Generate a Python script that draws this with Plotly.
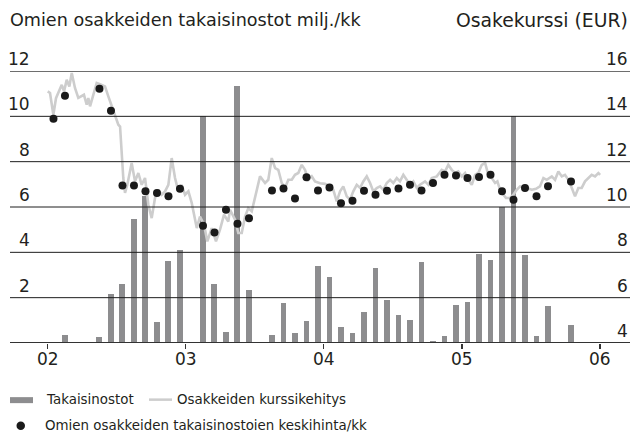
import plotly.graph_objects as go

# ---------------- data ----------------
# month index 0 = January 2002 ... 47 = December 2005
months = list(range(48))
buybacks = [0, 0.35, 0, 0, 0.25, 2.17, 2.6, 5.48, 6.47, 0.91, 3.6, 4.12,
            0, 10.0, 2.6, 0.5, 11.35, 2.32, 0, 0.34, 1.78, 0.45, 0.98, 3.41,
            2.92, 0.69, 0.45, 1.38, 3.32, 1.91, 1.25, 1.03, 3.58, 0.1, 0.29, 1.69,
            1.81, 3.94, 3.65, 6.0, 10.0, 3.9, 0.32, 1.62, 0, 0.78, 0, 0]
avg_price = [13.89, 14.91, None, None, 15.22, 14.25, 10.95, 10.95, 10.69, 10.62, 10.47, 10.8,
             None, 9.17, 8.88, 9.88, 9.26, 9.5, None, 10.73, 10.82, 10.38, 11.31, 10.73,
             10.86, 10.17, 10.28, 10.72, 10.54, 10.72, 10.82, 10.98, 10.73, 11.06, 11.42, 11.39,
             11.28, 11.32, 11.42, 10.69, 10.32, 10.84, 10.47, 10.91, None, 11.13, None, None]

# share price: time in months since start of 2002, price in EUR
price_t = [0.0, 0.2, 0.49, 0.72, 1.22, 1.42, 1.65, 1.88, 2.09, 2.37, 2.66, 2.96, 3.15, 3.39, 3.53, 3.68,
           4.26, 4.55, 4.98, 5.27, 5.57, 5.85, 6.14, 6.29, 6.43, 6.57, 6.72, 6.92, 7.30, 7.59, 7.88,
           8.17, 8.46, 8.75, 9.04, 9.33, 9.62, 9.91, 10.2, 10.49, 10.78, 11.07, 11.36, 11.65, 11.94,
           12.23, 12.52, 12.81, 12.96, 13.24, 13.59, 13.88, 14.26, 14.63, 14.98, 15.33, 15.70, 15.85,
           16.29, 16.57, 16.87, 17.16, 17.44, 17.74, 18.03, 18.46, 18.9, 19.18, 19.48, 19.77, 20.05,
           20.35, 20.63, 20.92, 21.22, 21.5, 21.79, 22.09, 22.37, 22.66, 22.96, 23.24, 23.68, 24.11,
           24.55, 24.83, 25.13, 25.42, 25.7, 26.0, 26.29, 26.57, 26.87, 27.16, 27.44, 27.74, 28.03,
           28.31, 28.61, 28.9, 29.18, 29.48, 29.77, 30.05, 30.35, 30.63, 30.92, 31.22, 31.5, 31.79,
           32.09, 32.37, 32.81, 33.1, 33.39, 33.83, 34.26, 34.55, 34.83, 35.13, 35.42, 35.7, 36.0,
           36.29, 36.57, 36.87, 37.16, 37.44, 37.74, 38.03, 38.31, 38.61, 38.9, 39.1, 39.33, 39.62,
           39.85, 40.2, 40.49, 40.78, 41.07, 41.65, 42.09, 42.46, 42.8, 43.1, 43.39, 43.83, 44.11,
           44.4, 44.7, 44.98, 45.27, 45.57, 45.85, 46.14, 46.43, 46.72, 47.01, 47.3, 47.59, 47.88, 48.03]
price_v = [15.1, 15.03, 14.07, 14.8, 15.39, 15.1, 15.61, 15.32, 15.91, 15.25, 14.81, 14.88, 14.95, 14.51, 14.81, 14.44,
           15.47, 15.42, 15.32, 14.88, 14.44, 14.07, 13.63, 13.55, 12.45, 11.28, 10.62, 10.98, 11.94, 11.13, 11.5,
           10.98, 11.28, 10.1, 9.51, 10.4, 10.76, 10.54, 10.69, 10.98, 12.16, 11.28, 10.69, 10.98, 10.54,
           10.69, 10.18, 9.36, 9.07, 9.58, 9.22, 8.48, 9.07, 8.48, 9.0, 9.66, 9.36, 9.88,
           9.44, 8.85, 8.85, 9.58, 9.95, 9.81, 10.4, 11.35, 11.06, 11.2, 12.16, 11.72, 11.64,
           11.06, 10.84, 11.2, 11.2, 11.42, 11.5, 11.86, 11.64, 11.2, 11.35, 11.13, 11.05, 11.02,
           10.9, 10.76, 10.25, 10.69, 10.91, 10.47, 10.32, 10.69, 10.98, 10.84, 11.13, 11.35, 11.06,
           10.69, 10.84, 10.91, 10.76, 11.06, 11.2, 11.06, 11.28, 11.13, 11.42, 11.2, 10.98, 11.13,
           10.84, 10.98, 11.13, 10.98, 11.28, 11.35, 11.64, 11.57, 11.86, 11.64, 11.5, 11.57, 11.35,
           11.5, 11.2, 10.98, 11.42, 11.5, 11.86, 11.94, 11.42, 11.28, 11.06, 11.13, 10.76, 10.54,
           10.4, 10.4, 10.54, 10.76, 10.91, 10.84, 10.76, 10.8, 10.91, 11.28, 11.2, 11.35, 11.2,
           11.57, 11.35, 11.42, 11.2, 10.84, 10.47, 10.84, 10.84, 11.13, 11.28, 11.42, 11.35, 11.5, 11.42]

year_ticks = [0, 12, 24, 36, 48]
year_labels = ["02", "03", "04", "05", "06"]
left_ticks = [2, 4, 6, 8, 10, 12]
right_ticks = [4, 6, 8, 10, 12, 14, 16]

title_left = "Omien osakkeiden takaisinostot milj./kk"
title_right = "Osakekurssi (EUR)"
legend_bar = "Takaisinostot"
legend_line = "Osakkeiden kurssikehitys"
legend_dot = "Omien osakkeiden takaisinostoien keskihinta/kk"

# ---------------- styling ----------------
FONT = "DejaVu Sans"
TXT = "#231f20"
BAR = "#8d8d8f"
LINE = "#cdcdcd"
DOT = "#1a1a1a"

W, H = 631, 432
ML, MR, MT, MB = 10, 1, 71, 88.7
PW, PH = W - ML - MR, H - MT - MB


def px(xp):
    return (xp - ML) / PW


def py(yp):
    return (H - MB - yp) / PH


fig = go.Figure()

fig.add_trace(go.Scatter(x=price_t, y=price_v, mode="lines", yaxis="y2",
                         line=dict(color=LINE, width=2.6), hoverinfo="skip"))
fig.add_trace(go.Bar(x=[m + 0.5 for m in months], y=buybacks, width=0.52,
                     marker=dict(color=BAR, line=dict(width=0)), yaxis="y"))
fig.add_trace(go.Scatter(x=[m + 0.5 for m in months], y=avg_price, mode="markers", yaxis="y2",
                         marker=dict(color=DOT, size=8), hoverinfo="skip"))

shapes = []
for v in left_ticks:
    top = v == 12
    shapes.append(dict(type="line", xref="paper", yref="y", x0=0, x1=1, y0=v, y1=v,
                       line=dict(color="#6e6e6e" if top else "#1e1e1e", width=2 if top else 1),
                       layer="above"))
shapes.append(dict(type="line", xref="paper", yref="y", x0=0, x1=1, y0=0, y1=0,
                   line=dict(color="#333333", width=2), layer="above"))

TF = dict(family=FONT, size=17, color=TXT)
annotations = []
for v in left_ticks:
    annotations.append(dict(text=str(v), xref="paper", yref="y", x=px(32), y=v,
                            xanchor="right", yanchor="bottom", yshift=0, showarrow=False, font=TF))
for v in right_ticks:
    annotations.append(dict(text=str(v), xref="paper", yref="y2", x=1, y=v,
                            xanchor="right", yanchor="bottom", yshift=0, showarrow=False, font=TF))

annotations.append(dict(text=title_left, xref="paper", yref="paper", x=px(8), y=py(20),
                        xanchor="left", yanchor="middle", showarrow=False,
                        font=dict(family=FONT, size=17.6, color=TXT)))
annotations.append(dict(text=title_right, xref="paper", yref="paper", x=1, y=py(20),
                        xanchor="right", yanchor="middle", showarrow=False,
                        font=dict(family=FONT, size=18.8, color=TXT)))

# legend
LF = dict(family=FONT, size=13.4, color=TXT)
shapes.append(dict(type="rect", xref="paper", yref="paper", x0=px(10), x1=px(33),
                   y0=py(403.5), y1=py(397.5), fillcolor=BAR, line=dict(width=0)))
annotations.append(dict(text=legend_bar, xref="paper", yref="paper", x=px(44), y=py(400),
                        xanchor="left", yanchor="middle", showarrow=False, font=LF))
shapes.append(dict(type="line", xref="paper", yref="paper", x0=px(149), x1=px(172),
                   y0=py(400), y1=py(400), line=dict(color=LINE, width=2.5)))
annotations.append(dict(text=legend_line, xref="paper", yref="paper", x=px(175), y=py(400),
                        xanchor="left", yanchor="middle", showarrow=False, font=LF))
shapes.append(dict(type="circle", xref="paper", yref="paper", x0=px(16.5), x1=px(25),
                   y0=py(430.5), y1=py(422), fillcolor=DOT, line=dict(width=0)))
annotations.append(dict(text=legend_dot, xref="paper", yref="paper", x=px(43), y=py(426),
                        xanchor="left", yanchor="middle", showarrow=False, font=LF))

fig.update_layout(
    width=W, height=H,
    margin=dict(l=ML, r=MR, t=MT, b=MB, pad=0),
    paper_bgcolor="white", plot_bgcolor="white",
    showlegend=False, bargap=0,
    xaxis=dict(range=[-3.28, 50.63], tickmode="array", tickvals=year_ticks, ticktext=year_labels,
               ticks="outside", ticklen=5, tickwidth=1.5, tickcolor="#333333",
               ticklabelstandoff=-4,
               showgrid=False, zeroline=False, showline=False,
               tickfont=dict(family=FONT, size=17, color=TXT)),
    yaxis=dict(range=[0, 12], showgrid=False, zeroline=False, showticklabels=False, showline=False),
    yaxis2=dict(range=[4, 16], overlaying="y", side="right", showgrid=False, zeroline=False,
                showticklabels=False, showline=False),
    shapes=shapes, annotations=annotations,
)

fig.write_html("out.html",
               config={"displayModeBar": False, "staticPlot": True},
               post_script="document.body.style.margin='0';document.body.style.padding='0';"
                           "document.documentElement.style.overflow='hidden';")
